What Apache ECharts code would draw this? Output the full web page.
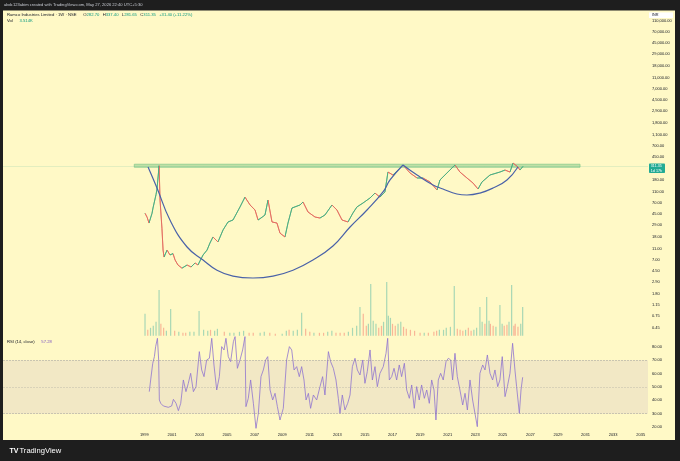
<!DOCTYPE html>
<html><head><meta charset="utf-8">
<script src="https://cdn.jsdelivr.net/npm/echarts@6/dist/echarts.min.js"></script>
<style>html,body{margin:0;padding:0;background:#1e1e1e;}#c{width:680px;height:461px;}</style>
</head><body><div id="c"></div>
<script>
// ---------- data ----------
const priceYears = [1999.05,1999.20,1999.34,1999.56,1999.63,1999.85,1999.92,2000.07,2000.14,2000.28,2000.36,2000.43,2000.65,2000.86,2001.08,2001.23,2001.44,2001.73,2002.10,2002.39,2002.68,2002.89,2003.26,2003.55,2003.76,2003.98,2004.34,2004.71,2005.07,2005.43,2005.94,2006.30,2006.67,2007.03,2007.25,2007.54,2007.75,2007.97,2008.26,2008.62,2008.84,2009.20,2009.42,2009.71,2010.29,2010.51,2010.87,2011.38,2011.74,2012.10,2012.61,2012.97,2013.34,2013.77,2014.13,2014.42,2014.86,2015.37,2015.73,2016.09,2016.45,2016.67,2017.03,2017.40,2017.76,2018.27,2018.78,2019.21,2019.72,2020.23,2020.44,2020.95,2021.53,2021.89,2022.40,2022.84,2023.20,2023.49,2024.07,2024.79,2025.16,2025.52,2025.74,2026.10,2026.24,2026.46];
const priceClose = [47,40,31.6,47,58,100,125,320,80,25,10.6,8.0,10.6,8.7,9.2,7.1,5.8,5.1,5.8,5.35,6.3,5.8,8.7,10.6,14.1,18,14.7,23.9,33,35.7,60.5,90,65.5,53.5,35.7,40,43.7,80,33,31.6,21,18,31.6,58,65.5,74,49.4,40.3,38.7,43.7,65.5,53.5,35.7,33,47.4,60.5,71,87,106,90,111,248,220,269,330,239,195,195,166,120,180,239,330,248,195,159,125,166,220,248,269,248,357,304,269,311.35];

const volumeYears = [1999.05,1999.25,1999.45,1999.65,1999.85,2000.07,2000.2,2000.4,2000.6,2000.91,2001.2,2001.5,2001.8,2002.0,2002.3,2002.6,2002.97,2003.3,2003.6,2003.8,2004.1,2004.3,2004.8,2005.2,2005.5,2005.9,2006.2,2006.6,2006.9,2007.4,2007.7,2008.1,2008.5,2009.0,2009.3,2009.5,2009.8,2010.1,2010.41,2010.7,2011.0,2011.3,2011.7,2012.0,2012.3,2012.6,2012.9,2013.2,2013.5,2013.8,2014.1,2014.4,2014.64,2014.88,2015.1,2015.25,2015.42,2015.6,2015.8,2016.0,2016.2,2016.35,2016.58,2016.7,2016.85,2017.0,2017.2,2017.4,2017.6,2017.8,2018.0,2018.3,2018.6,2019.0,2019.3,2019.6,2020.0,2020.2,2020.4,2020.7,2020.9,2021.2,2021.48,2021.7,2021.9,2022.1,2022.3,2022.5,2022.7,2022.9,2023.1,2023.34,2023.5,2023.7,2023.83,2024.0,2024.1,2024.3,2024.5,2024.79,2024.95,2025.1,2025.3,2025.45,2025.64,2025.8,2025.9,2026.1,2026.3,2026.44];
const volumeValues = [22,6,8,10,14,46,12,8,5,27,5,4,3,3,4,4,25,6,5,6,5,7,4,3,3,4,5,3,3,3,4,3,2,2,5,6,5,6,23,7,4,3,3,3,4,5,3,3,3,4,8,10,29,22,10,12,52,15,12,8,10,14,54,20,18,12,10,12,14,9,7,6,5,3,3,3,4,5,6,6,8,9,50,7,6,5,6,8,5,6,8,29,14,12,39,15,12,10,9,31,12,10,11,14,51,10,12,9,12,29];
const volumeUp = [1,0,1,1,1,1,0,0,1,1,0,1,0,0,1,1,1,1,1,0,1,1,0,1,1,1,1,0,0,1,1,0,0,1,1,0,1,1,1,0,0,1,0,0,1,1,0,0,0,1,1,1,1,0,0,1,1,1,1,0,0,1,1,1,1,0,0,1,1,0,0,0,0,0,1,0,0,0,1,1,1,1,1,0,0,0,1,0,0,1,1,1,1,0,1,1,0,0,1,1,1,0,0,1,1,0,0,0,1,1];

const rsiYears = [1999.36,1999.46,1999.61,1999.73,1999.82,1999.95,2000.04,2000.09,2000.19,2000.38,2000.74,2000.98,2001.11,2001.30,2001.47,2001.64,2001.83,2002.02,2002.19,2002.36,2002.56,2002.75,2002.99,2003.16,2003.33,2003.52,2003.72,2003.89,2004.05,2004.25,2004.44,2004.61,2004.78,2004.92,2005.09,2005.26,2005.46,2005.58,2005.75,2005.94,2006.13,2006.30,2006.37,2006.54,2006.71,2006.91,2007.10,2007.27,2007.46,2007.63,2007.80,2007.95,2008.12,2008.31,2008.48,2008.65,2008.84,2009.08,2009.32,2009.52,2009.69,2009.86,2010.05,2010.24,2010.41,2010.58,2010.73,2010.90,2011.06,2011.26,2011.50,2011.74,2011.93,2012.10,2012.35,2012.51,2012.71,2012.90,2013.07,2013.19,2013.36,2013.55,2013.75,2013.92,2014.09,2014.28,2014.45,2014.64,2014.84,2015.00,2015.17,2015.37,2015.54,2015.73,2015.90,2016.09,2016.33,2016.53,2016.65,2016.77,2016.94,2017.11,2017.30,2017.49,2017.66,2017.86,2018.03,2018.22,2018.39,2018.58,2018.75,2018.94,2019.11,2019.31,2019.48,2019.67,2019.84,2020.01,2020.15,2020.32,2020.49,2020.68,2020.88,2021.05,2021.22,2021.36,2021.53,2021.70,2021.89,2022.09,2022.26,2022.43,2022.62,2022.81,2022.98,2023.15,2023.34,2023.54,2023.71,2023.88,2024.07,2024.26,2024.43,2024.63,2024.79,2024.96,2025.16,2025.33,2025.52,2025.71,2025.88,2026.00,2026.20,2026.32,2026.44];
const rsiValues = [46.5,55.25,67.75,72.75,80.25,86.5,70.25,40.25,37.75,35.75,34.75,35.75,40.75,37.75,32.25,37.75,55.25,46.5,52.75,60.25,46.5,50.25,76.5,62.75,57.75,70.25,71.5,86.5,66.5,47.75,57.75,80.25,77.75,86.5,72.75,69,84,87.75,64,70.25,77.75,87.75,35.25,41.5,55.25,37.75,19,30.25,57.75,62.75,70.25,72.75,47.75,40.25,45.25,35.25,25.25,34,70.25,80.25,77.75,62.75,65.25,57.75,65.25,55.25,40.25,45.25,34,44,40.25,50.25,57.75,44,76.5,69,64,55.25,41.5,30.25,44,32.75,37.75,44,65.25,71.5,62.75,59,70.25,52.75,61.5,77.75,55.25,65.25,50.25,60.25,65.25,75.25,86.5,55.25,57.75,64,55.25,66.5,57.75,67.75,47.75,41.5,51.5,34,50.25,40.25,51.5,41.5,47.75,37.75,55.25,47.75,25.25,55.25,60.25,55.25,69,71.5,70.25,55.25,75.25,57.75,47.75,36.5,45.25,32.75,55.25,40.25,30.25,20.25,60.25,66.5,62.75,74,60.25,55.25,62.75,50.25,55.25,72.75,42.75,50.25,60.25,82.75,62.75,50.25,30.25,47.75,57.28];

// hand-drawn arcs (cup shapes)
const bigCupYears  = [1999.27,1999.92,2000.86,2002.10,2003.26,2004.27,2005.43,2006.88,2008.33,2009.78,2011.23,2012.68,2013.92,2015.15,2016.31,2016.82,2017.76];
const bigCupPrices = [304,130,35.7,12.0,7.1,4.7,3.7,3.43,3.7,4.7,7.1,12.5,26.9,53.5,111,180,330];
const smallCupYears  = [2017.76,2018.78,2019.94,2020.66,2021.67,2022.40,2023.34,2024.29,2025.30,2026.10];
const smallCupPrices = [330,220,147,125,102,98,106,130,180,304];

// resistance zone rectangle
const zoneYears = [1998.27, 2030.60];
const zonePrices = [301, 340];

// axis ticks
const priceTicks = [0.45,0.75,1.15,1.8,2.9,4.5,7,11,18,29,45,70,110,180,450,700,1100,1800,2900,4500,7000,11000,18000,29000,45000,70000,110000];
const rsiTicks = [20,30,40,50,60,70,80];
const yearTicks = [1999,2001,2003,2005,2007,2009,2011,2013,2015,2017,2019,2021,2023,2025,2027,2029,2031,2033,2035];
const rsiLevels = [70, 50, 30];

const lastPrice = 311.35;
const lastRsi = 57.28;
const ohlc = {O:'282.70', H:'337.40', L:'281.65', C:'311.35'};
const change = '+31.40 (+11.22%)';

// ---------- chart ----------
const FONT = '"Liberation Sans", Arial, sans-serif';
const X_MIN = 1988.75, X_MAX = 2035.53;
const P_MIN = 0.3254, P_MAX = 166000;
const GREEN = '#45a97e', RED = '#e2685e';
const TXT = '#131722';

const zip = (a, b) => a.map((v, i) => [v, b[i]]);
const fmt = v => v.toLocaleString('en-US', {minimumFractionDigits: 2, maximumFractionDigits: 2});

// up/down colouring of price path (like candles)
const pieces = [];
for (let i = 0; i < priceYears.length - 1; i++) {
  const p = {gte: priceYears[i], color: priceClose[i + 1] >= priceClose[i] ? GREEN : RED};
  if (i === priceYears.length - 2) p.lte = priceYears[i + 1]; else p.lt = priceYears[i + 1];
  pieces.push(p);
}

const xBase = {type: 'value', min: X_MIN, max: X_MAX, axisLine: {show: false}, axisTick: {show: false}, splitLine: {show: false}, axisLabel: {show: false}};
const hidden = {axisLine: {show: false}, axisTick: {show: false}, splitLine: {show: false}};

const chart = echarts.init(document.getElementById('c'));
chart.setOption({
  backgroundColor: '#1e1e1e',
  animation: false,
  textStyle: {fontFamily: FONT},
  grid: [
    {left: 3, right: 32, top: 11, bottom: 124.7},
    {left: 3, right: 32, top: 270, bottom: 125.2},
    {left: 3, right: 32, top: 336.3, bottom: 30}
  ],
  xAxis: [
    Object.assign({}, xBase, {gridIndex: 0}),
    Object.assign({}, xBase, {gridIndex: 1}),
    Object.assign({}, xBase, {gridIndex: 2, axisLabel: {show: true, customValues: yearTicks, formatter: v => String(Math.round(v)), fontSize: 4, color: TXT, margin: 2.2, fontFamily: FONT}})
  ],
  yAxis: [
    Object.assign({type: 'log', gridIndex: 0, min: P_MIN, max: P_MAX, position: 'right', axisLabel: {show: false}}, hidden),
    Object.assign({type: 'value', gridIndex: 0, min: Math.log10(P_MIN), max: Math.log10(P_MAX), position: 'right',
      axisLabel: {customValues: priceTicks.map(v => Math.log10(v)), formatter: v => fmt(Math.pow(10, v)), fontSize: 4, color: TXT, margin: 4, fontFamily: FONT}}, hidden),
    Object.assign({type: 'value', gridIndex: 1, min: 0, max: 66, axisLabel: {show: false}}, hidden),
    Object.assign({type: 'value', gridIndex: 2, min: 17, max: 88, position: 'right',
      axisLabel: {customValues: rsiTicks, formatter: v => fmt(v), fontSize: 4, color: TXT, margin: 4, fontFamily: FONT}}, hidden)
  ],
  visualMap: [{type: 'piecewise', show: false, seriesIndex: 0, dimension: 0, pieces: pieces, outOfRange: {color: GREEN}}],
  series: [
    {
      type: 'line', xAxisIndex: 0, yAxisIndex: 0, data: zip(priceYears, priceClose),
      showSymbol: false, lineStyle: {width: 0.8}, z: 4,
      markArea: {silent: true, itemStyle: {color: 'rgba(129,199,132,0.5)', borderColor: '#8ccc8f', borderWidth: 0.8},
        data: [[{xAxis: zoneYears[0], yAxis: zonePrices[1]}, {xAxis: zoneYears[1], yAxis: zonePrices[0]}]]},
      markLine: {silent: true, symbol: 'none', label: {show: false},
        lineStyle: {color: '#22ab94', type: 'dotted', width: 0.5, opacity: 0.5}, data: [{yAxis: lastPrice}]}
    },
    {type: 'line', xAxisIndex: 0, yAxisIndex: 0, data: zip(bigCupYears, bigCupPrices), smooth: 0.45, showSymbol: false,
      lineStyle: {color: '#4a62a8', width: 1.2}, z: 5},
    {type: 'line', xAxisIndex: 0, yAxisIndex: 0, data: zip(smallCupYears, smallCupPrices), smooth: 0.45, showSymbol: false,
      lineStyle: {color: '#4a62a8', width: 1.2}, z: 5},
    {type: 'bar', xAxisIndex: 1, yAxisIndex: 2, barWidth: 1.2,
      data: volumeYears.map((y, i) => ({value: [y, volumeValues[i]], itemStyle: {color: volumeUp[i] ? 'rgba(38,166,154,0.4)' : 'rgba(239,83,80,0.4)'}}))},
    {
      type: 'line', xAxisIndex: 2, yAxisIndex: 3, data: zip(rsiYears, rsiValues), showSymbol: false,
      lineStyle: {color: '#8f73cf', width: 0.8}, itemStyle: {color: '#8f73cf'}, z: 4,
      markArea: {silent: true, itemStyle: {color: 'rgba(126,87,194,0.1)'}, data: [[{yAxis: rsiLevels[2]}, {yAxis: rsiLevels[0]}]]},
      markLine: {silent: true, symbol: 'none', label: {show: false},
        data: rsiLevels.map((v, i) => ({yAxis: v, lineStyle: {color: '#787b86', type: 'dashed', width: 0.5, opacity: i === 1 ? 0.4 : 0.7}}))}
    }
  ]
});

// ---------- overlay texts & labels ----------
const py = chart.convertToPixel({yAxisIndex: 0}, lastPrice);
const t = (x, y, text, fill, size, extra) => Object.assign({type: 'text', x: x, y: y, silent: true,
  style: {text: text, fill: fill, font: (size || 4.2) + 'px ' + FONT, verticalAlign: 'middle', align: 'left'}}, extra || {});

chart.setOption({
  graphic: {elements: [
    {type: 'rect', shape: {x: 3, y: 10.5, width: 672, height: 429.5}, style: {fill: '#fff9c6'}, z: -10, silent: true},
    t(4, 5.3, 'abdc123abim created with TradingView.com, May 27, 2026 22:40 UTC+5:30', '#c9ccd4', 4.1),
    {type: 'text', x: 7, y: 15, silent: true, style: {
      text: '{n|Ramco Industries Limited · 1W · NSE}  {l|O}{v|' + ohlc.O + '} {l|H}{v|' + ohlc.H + '} {l|L}{v|' + ohlc.L + '} {l|C}{v|' + ohlc.C + '} {v|' + change + '}',
      verticalAlign: 'middle', align: 'left',
      rich: {
        n: {fill: TXT, fontSize: 4.2, fontFamily: FONT},
        l: {fill: TXT, fontSize: 4.2, fontFamily: FONT},
        v: {fill: '#089981', fontSize: 4.2, fontFamily: FONT}
      }}},
    {type: 'text', x: 7, y: 21, silent: true, style: {
      text: '{l|Vol}  {v|3.514K}', verticalAlign: 'middle', align: 'left',
      rich: {l: {fill: TXT, fontSize: 4.2, fontFamily: FONT}, v: {fill: '#089981', fontSize: 4.2, fontFamily: FONT}}}},
    {type: 'text', x: 7, y: 342.3, silent: true, style: {
      text: '{l|RSI (14, close)}  {v|' + lastRsi.toFixed(2) + '}', verticalAlign: 'middle', align: 'left',
      rich: {l: {fill: TXT, fontSize: 4.2, fontFamily: FONT}, v: {fill: '#7e57c2', fontSize: 4.2, fontFamily: FONT}}}},
    {type: 'rect', shape: {x: 649, y: 12.4, width: 24, height: 5.6}, style: {fill: '#ffffff'}, z: 10, silent: true},
    t(652, 15.2, 'INR', TXT, 3.8, {z: 11}),
    {type: 'rect', shape: {x: 649, y: py - 2.9, width: 16, height: 9.6, r: 0.8}, style: {fill: '#22ab94'}, z: 10, silent: true},
    t(650.8, py, fmt(lastPrice), '#ffffff', 3.7, {z: 11}),
    t(650.8, py + 4.4, '1d 17h', '#ffffff', 3.7, {z: 11}),
    t(9.5, 451, 'TV', '#ffffff', 7, {style: {text: 'TV', fill: '#ffffff', font: 'bold 7px ' + FONT, verticalAlign: 'middle', align: 'left'}}),
    t(19.5, 451.2, 'TradingView', '#ffffff', 7.6)
  ]}
});
</script></body></html>
